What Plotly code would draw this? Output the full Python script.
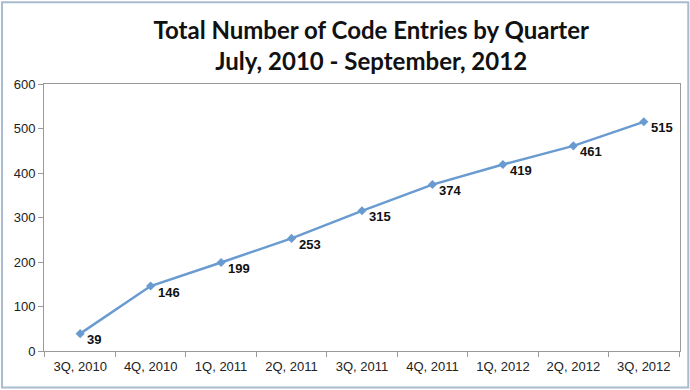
import plotly.graph_objects as go

quarters = ["3Q, 2010", "4Q, 2010", "1Q, 2011", "2Q, 2011", "3Q, 2011",
            "4Q, 2011", "1Q, 2012", "2Q, 2012", "3Q, 2012"]
entries = [39, 146, 199, 253, 315, 374, 419, 461, 515]

line_color = "#6a9bd0"
axis_color = "#9a9a9a"

fig = go.Figure(go.Scatter(
    x=quarters,
    y=entries,
    mode="lines+markers",
    line=dict(color=line_color, width=2.5),
    marker=dict(symbol="diamond", size=7, color=line_color),
    hoverinfo="x+y",
))

# data labels, right of each point and a bit lower
for q, v in zip(quarters, entries):
    fig.add_annotation(
        x=q, y=v, text="<b>%d</b>" % v, showarrow=False,
        xanchor="left", yanchor="middle", xshift=5, yshift=-6,
        font=dict(family="Liberation Sans, Arial", size=13, color="#111111"),
    )

# light frame around the whole chart
fig.add_shape(
    type="rect", xref="paper", yref="paper",
    x0=-0.066, x1=1.013, y0=-0.137, y1=1.306,
    line=dict(color="#a9bccf", width=2),
)

fig.update_layout(
    width=690, height=390,
    margin=dict(l=44, r=10, t=84, b=39),
    paper_bgcolor="white", plot_bgcolor="white",
    showlegend=False,
    title=dict(
        text="<b>Total Number of Code Entries by Quarter<br>July, 2010 - September, 2012</b>",
        x=0.538, xanchor="center", y=0.9, yanchor="top",
        font=dict(family="Lato, Liberation Sans", size=24, color="#111111"),
    ),
    font=dict(family="Liberation Sans, Arial", size=12, color="#222222"),
)
fig.update_xaxes(
    type="category", showgrid=False,
    showline=True, linecolor=axis_color, linewidth=1, mirror=True,
    ticks="outside", tickson="boundaries", ticklen=5, tickcolor=axis_color,
    tickfont=dict(size=13), ticklabelstandoff=3,
)
fig.update_yaxes(
    range=[0, 600], dtick=100, showgrid=False, zeroline=False,
    showline=True, linecolor=axis_color, linewidth=1, mirror=True,
    ticks="outside", ticklen=5, tickcolor=axis_color,
    tickfont=dict(size=13),
)

fig.write_html("out.html", config={"displayModeBar": False},
               post_script="document.body.style.margin='0';")
